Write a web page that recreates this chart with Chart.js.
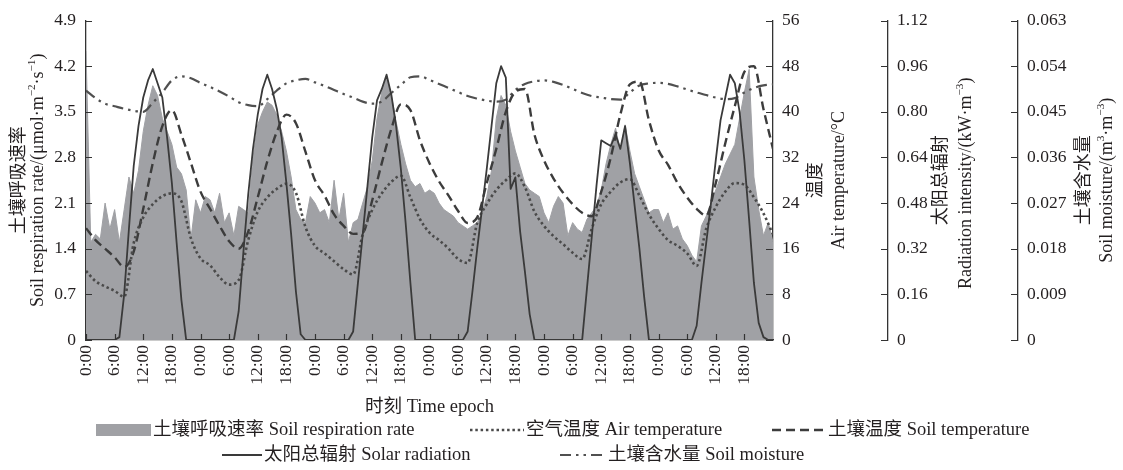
<!DOCTYPE html>
<html>
<head>
<meta charset="utf-8">
<script src="https://cdn.jsdelivr.net/npm/chart.js@4.4.1/dist/chart.umd.min.js"></script>
<style>
html, body { margin: 0; padding: 0; background: #fff; overflow: hidden; }
#wrap { position: relative; width: 1123px; height: 470px; }
</style>
</head>
<body>
<div id="wrap"><canvas id="soilChart"></canvas></div>
<script>
// --- data ---
const timeTickLabels = ['0:00', '6:00', '12:00', '18:00', '0:00', '6:00', '12:00', '18:00',
    '0:00', '6:00', '12:00', '18:00', '0:00', '6:00', '12:00', '18:00',
    '0:00', '6:00', '12:00', '18:00', '0:00', '6:00', '12:00', '18:00'];

// hourly samples, hour 0 .. 144
const respRate = [
    4.43, 1.5, 1.62, 1.55, 2.1, 1.7, 2.0, 1.5, 2.0, 2.5, 2.25, 2.6, 3.2, 3.6, 3.9, 3.75, 3.4, 3.2, 3.0, 2.65, 2.55, 2.3, 1.55, 2.15,
    1.95, 2.2, 2.15, 1.95, 2.25, 1.8, 1.95, 1.6, 2.05, 2.0, 1.95, 2.8, 3.3, 3.5, 3.65, 3.6, 3.45, 3.2, 2.9, 2.5, 2.0, 1.85, 1.8, 2.2,
    2.1, 1.95, 2.0, 1.8, 2.45, 1.85, 2.25, 1.5, 1.8, 1.85, 2.1, 2.35, 2.75, 3.4, 3.8, 4.05, 3.75, 3.35, 3.0, 2.7, 2.45, 2.35, 2.4, 2.25,
    2.3, 2.25, 2.1, 2.0, 1.95, 1.9, 1.8, 1.75, 1.7, 1.75, 1.8, 1.95, 2.2, 2.6, 3.4, 3.75, 3.6, 3.2, 2.9, 2.65, 2.4, 2.3, 2.25, 2.2,
    1.95, 1.8, 2.05, 2.2, 2.1, 1.6, 1.8, 1.7, 1.65, 1.85, 1.95, 2.05, 2.3, 2.7, 3.0, 3.25, 2.9, 3.3, 2.9, 2.55, 2.35, 2.15, 1.95, 2.0,
    2.0, 1.8, 1.95, 1.7, 1.75, 1.55, 1.45, 1.3, 1.2, 1.75, 1.9, 2.1, 2.3, 2.5, 2.7, 2.85, 3.0, 3.4, 3.8, 4.15, 2.5, 2.0, 1.6, 1.8,
    1.5
];
const solarRad = [
    0, 0, 0, 0, 0, 0, 0, 0.01, 0.16, 0.39, 0.61, 0.75, 0.85, 0.91, 0.95, 0.9, 0.85, 0.71, 0.55, 0.34, 0.14, 0, 0, 0,
    0, 0, 0, 0, 0, 0, 0, 0, 0.1, 0.31, 0.51, 0.67, 0.79, 0.88, 0.93, 0.88, 0.81, 0.71, 0.55, 0.37, 0.17, 0.02, 0, 0,
    0, 0, 0, 0, 0, 0, 0, 0, 0.03, 0.2, 0.37, 0.54, 0.71, 0.84, 0.88, 0.93, 0.86, 0.75, 0.6, 0.41, 0.2, 0, 0, 0,
    0, 0, 0, 0, 0, 0, 0, 0, 0.03, 0.17, 0.32, 0.46, 0.6, 0.75, 0.9, 0.96, 0.92, 0.53, 0.57, 0.38, 0.24, 0.09, 0, 0,
    0, 0, 0, 0, 0, 0, 0, 0, 0, 0.18, 0.36, 0.54, 0.7, 0.69, 0.68, 0.72, 0.67, 0.75, 0.62, 0.47, 0.32, 0.15, 0, 0,
    0, 0, 0, 0, 0, 0, 0, 0, 0.05, 0.2, 0.34, 0.48, 0.63, 0.77, 0.85, 0.93, 0.9, 0.8, 0.63, 0.42, 0.2, 0.06, 0.01, 0,
    0
];

// two-hourly samples, hour 0, 2, .. 144
const airTemp = [
    12.1, 10.3, 9.4, 8.6, 7.6, 17.0, 21.5, 23.8, 25.2, 25.7, 24.3, 17.8,
    14.3, 13.1, 11.0, 9.7, 10.5, 17.5, 22.5, 25.0, 26.5, 27.4, 25.8, 19.8,
    16.5, 15.2, 13.8, 12.4, 11.5, 18.5, 22.8, 25.7, 27.7, 28.8, 25.0, 21.2,
    18.8, 17.5, 16.0, 14.2, 13.5, 20.5, 23.8, 26.3, 28.0, 29.2, 26.8, 22.5,
    20.0, 18.2, 16.8, 15.3, 14.2, 19.5, 23.8, 26.0, 27.6, 28.2, 25.3, 22.0,
    19.5, 17.5, 16.5, 15.2, 13.0, 19.5, 23.3, 26.0, 27.5, 27.2, 25.0, 22.2,
    18.5
];
const soilTemp = [
    19.6, 17.5, 16.0, 14.5, 12.8, 15.5, 23.0, 31.0, 37.5, 40.3, 36.0, 31.0,
    26.0, 23.0, 20.0, 17.3, 16.0, 19.0, 25.0, 31.3, 36.5, 39.5, 38.0, 33.0,
    28.0, 25.3, 22.0, 20.0, 18.6, 18.8, 24.5, 31.0, 37.0, 41.3, 40.3, 35.0,
    31.0, 27.8, 25.3, 22.6, 20.5, 21.5, 27.5, 33.5, 40.0, 43.5, 44.0, 36.0,
    31.5, 28.3, 25.8, 23.8, 22.3, 21.7, 26.0, 32.0, 39.5, 44.8, 45.3, 38.5,
    33.3, 30.7, 27.5, 25.0, 23.0, 21.8, 27.5, 34.5, 41.0, 47.0, 48.0, 40.5,
    33.5
];
const soilMoisture = [
    0.0492, 0.0477, 0.0466, 0.0461, 0.0456, 0.0452, 0.0450, 0.0468, 0.0488, 0.0512, 0.0520, 0.0516,
    0.0507, 0.0499, 0.0490, 0.0480, 0.0469, 0.0463, 0.0461, 0.0475, 0.0492, 0.0506, 0.0512, 0.0515,
    0.0508, 0.0501, 0.0493, 0.0485, 0.0478, 0.0470, 0.0466, 0.0470, 0.0487, 0.0503, 0.0518, 0.0520,
    0.0513, 0.0505, 0.0497, 0.0489, 0.0481, 0.0476, 0.0472, 0.0470, 0.0474, 0.0493, 0.0505, 0.0510,
    0.0512, 0.0509, 0.0503, 0.0495, 0.0487, 0.0481, 0.0478, 0.0475, 0.0474, 0.0488, 0.0502, 0.0506,
    0.0507, 0.0505, 0.0500, 0.0494, 0.0488, 0.0483, 0.0478, 0.0475, 0.0477, 0.0488, 0.0497, 0.0502,
    0.0504
];

// axis ticks
const respTicks = [0, 0.7, 1.4, 2.1, 2.8, 3.5, 4.2, 4.9];
const respTickLabels = ['0', '0.7', '1.4', '2.1', '2.8', '3.5', '4.2', '4.9'];
const tempTicks = [0, 8, 16, 24, 32, 40, 48, 56];
const tempTickLabels = ['0', '8', '16', '24', '32', '40', '48', '56'];
const radTicks = [0, 0.16, 0.32, 0.48, 0.64, 0.8, 0.96, 1.12];
const radTickLabels = ['0', '0.16', '0.32', '0.48', '0.64', '0.80', '0.96', '1.12'];
const moistTicks = [0, 0.009, 0.018, 0.027, 0.036, 0.045, 0.054, 0.063];
const moistTickLabels = ['0', '0.009', '0.018', '0.027', '0.036', '0.045', '0.054', '0.063'];

// --- styles ---
const SERIF = '"Liberation Serif", "Times New Roman", "Noto Sans CJK SC", serif';
const INK = '#231f20';
const AXIS = '#333333';
const FILL_GRAY = '#a0a1a5';
const DOT = [2.5, 2.8];
const DASH = [9, 5];
const DASHDOT = [11, 5, 2.5, 5, 2.5, 5];

const hourly = arr => arr.map((v, i) => ({ x: i, y: v }));
const twoHourly = arr => arr.map((v, i) => ({ x: i * 2, y: v }));

function fixedTicks(values) {
    return scale => { scale.ticks = values.map(v => ({ value: v })); };
}

function yAxis(pos, max, ticks, labels, width, weight) {
    return {
        type: 'linear', position: pos, min: 0, max: max, weight: weight,
        afterBuildTicks: fixedTicks(ticks),
        afterFit: s => { s.width = width; },
        ticks: { autoSkip: false, padding: pos === 'left' ? 10 : 9, color: INK,
            font: { family: SERIF, size: 17.5 }, callback: (v, i) => labels[i] },
        grid: { display: false, drawTicks: false },
        border: { display: true, color: AXIS, width: 1.3 }
    };
}

// rotated (bottom-to-top) text made of [text, isSuperscript] parts
function drawVertical(ctx, parts, cx, cy, size) {
    ctx.save();
    ctx.translate(cx, cy);
    ctx.rotate(-Math.PI / 2);
    ctx.textAlign = 'left';
    ctx.textBaseline = 'middle';
    ctx.fillStyle = INK;
    const fonts = parts.map(p => (p[1] ? size * 0.62 : size) + 'px ' + SERIF);
    const widths = parts.map((p, i) => { ctx.font = fonts[i]; return ctx.measureText(p[0]).width; });
    let x = -widths.reduce((a, b) => a + b, 0) / 2;
    parts.forEach((p, i) => {
        ctx.font = fonts[i];
        ctx.fillText(p[0], x, p[1] ? -size * 0.33 : 0);
        x += widths[i];
    });
    ctx.restore();
}

function strokeSample(ctx, x1, x2, y, dash, width, color) {
    ctx.save();
    ctx.strokeStyle = color;
    ctx.lineWidth = width;
    ctx.setLineDash(dash);
    ctx.beginPath();
    ctx.moveTo(x1, y);
    ctx.lineTo(x2, y);
    ctx.stroke();
    ctx.restore();
}

const decorations = {
    id: 'decorations',
    afterDraw(chart) {
        const { ctx, scales } = chart;
        ctx.save();
        ctx.strokeStyle = AXIS;
        ctx.lineWidth = 1.2;
        ctx.beginPath();
        // inward tick marks
        const yR = scales.yR;
        yR.ticks.forEach(t => {
            const y = Math.round(yR.getPixelForValue(t.value)) + 0.5;
            ctx.moveTo(yR.right, y); ctx.lineTo(yR.right + 6, y);
        });
        ['yT', 'yS', 'yM'].forEach(id => {
            const s = scales[id];
            s.ticks.forEach(t => {
                const y = Math.round(s.getPixelForValue(t.value)) + 0.5;
                ctx.moveTo(s.left - 7, y); ctx.lineTo(s.left, y);
            });
        });
        const xs = scales.x;
        xs.ticks.forEach(t => {
            const x = Math.round(xs.getPixelForValue(t.value)) + 0.5;
            ctx.moveTo(x, xs.top); ctx.lineTo(x, xs.top - 6);
        });
        ctx.stroke();
        ctx.restore();

        // axis titles
        const cy = (chart.chartArea.top + chart.chartArea.bottom) / 2;
        drawVertical(ctx, [['土壤呼吸速率']], 19, cy, 18);
        drawVertical(ctx, [['Soil respiration rate/(μmol·m'], ['−2', true], ['·s'], ['−1', true], [')']], 38, cy, 18);
        drawVertical(ctx, [['温度']], 816, cy, 18);
        drawVertical(ctx, [['Air temperature/°C']], 839, cy, 18);
        drawVertical(ctx, [['太阳总辐射']], 941, cy, 18);
        drawVertical(ctx, [['Radiation intensity/(kW·m'], ['−3', true], [')']], 966, cy + 3, 18);
        drawVertical(ctx, [['土壤含水量']], 1084, cy, 18);
        drawVertical(ctx, [['Soil moisture/(m'], ['3', true], ['·m'], ['−3', true], [')']], 1107, cy, 18);

        ctx.save();
        ctx.fillStyle = INK;
        ctx.font = '18.5px ' + SERIF;
        ctx.textBaseline = 'middle';
        ctx.textAlign = 'center';
        ctx.fillText('时刻 Time epoch', (chart.chartArea.left + chart.chartArea.right) / 2, 407);

        // legend
        ctx.textAlign = 'left';
        const r1 = 430, r2 = 455;
        ctx.fillStyle = FILL_GRAY;
        ctx.fillRect(96, r1 - 6, 55, 12);
        strokeSample(ctx, 470, 524, r1, DOT, 2.5, '#4a4a4a');
        strokeSample(ctx, 772, 826, r1, DASH, 2.4, '#3c3c3c');
        strokeSample(ctx, 222, 262, r2, [], 2.2, '#3a3a3a');
        strokeSample(ctx, 560, 606, r2, DASHDOT, 2.2, '#505050');
        ctx.fillStyle = INK;
        ctx.fillText('土壤呼吸速率 Soil respiration rate', 153, r1);
        ctx.fillText('空气温度 Air temperature', 526, r1);
        ctx.fillText('土壤温度 Soil temperature', 828, r1);
        ctx.fillText('太阳总辐射 Solar radiation', 264, r2);
        ctx.fillText('土壤含水量 Soil moisture', 608, r2);
        ctx.restore();
    }
};

new Chart(document.getElementById('soilChart'), {
    type: 'line',
    data: {
        datasets: [
            { label: '土壤呼吸速率 Soil respiration rate', data: hourly(respRate), yAxisID: 'yR',
              fill: 'origin', backgroundColor: FILL_GRAY, borderColor: FILL_GRAY, borderWidth: 1, order: 10 },
            { label: '太阳总辐射 Solar radiation', data: hourly(solarRad), yAxisID: 'yS',
              borderColor: '#3a3a3a', borderWidth: 1.8, borderJoinStyle: 'round', order: 2 },
            { label: '空气温度 Air temperature', data: twoHourly(airTemp), yAxisID: 'yT',
              borderColor: '#4a4a4a', borderWidth: 2.6, borderDash: DOT, cubicInterpolationMode: 'monotone', order: 3 },
            { label: '土壤温度 Soil temperature', data: twoHourly(soilTemp), yAxisID: 'yT',
              borderColor: '#3c3c3c', borderWidth: 2.4, borderDash: DASH, cubicInterpolationMode: 'monotone', order: 4 },
            { label: '土壤含水量 Soil moisture', data: twoHourly(soilMoisture), yAxisID: 'yM',
              borderColor: '#505050', borderWidth: 2.2, borderDash: DASHDOT, cubicInterpolationMode: 'monotone', order: 5 }
        ]
    },
    options: {
        responsive: true,
        maintainAspectRatio: false,
        animation: false,
        layout: { padding: { top: 17, left: 0, right: 0, bottom: 0 } },
        elements: { point: { radius: 0, hoverRadius: 0 }, line: { tension: 0 } },
        plugins: { legend: { display: false }, tooltip: { enabled: false } },
        scales: {
            x: {
                type: 'linear', position: 'bottom', min: 0, max: 144,
                afterBuildTicks: fixedTicks(timeTickLabels.map((_, i) => i * 6)),
                afterFit: s => { s.height = 130; },
                ticks: { autoSkip: false, minRotation: 90, maxRotation: 90, padding: 5, color: INK,
                    font: { family: SERIF, size: 17.5 }, callback: (v, i) => timeTickLabels[i] },
                grid: { display: false, drawTicks: false },
                border: { display: true, color: AXIS, width: 1.3 }
            },
            yR: yAxis('left', 4.9, respTicks, respTickLabels, 86, 0),
            yT: yAxis('right', 56, tempTicks, tempTickLabels, 115, 0),
            yS: yAxis('right', 1.12, radTicks, radTickLabels, 130, 1),
            yM: yAxis('right', 0.063, moistTicks, moistTickLabels, 105, 2)
        }
    },
    plugins: [decorations]
});
</script>
</body>
</html>
